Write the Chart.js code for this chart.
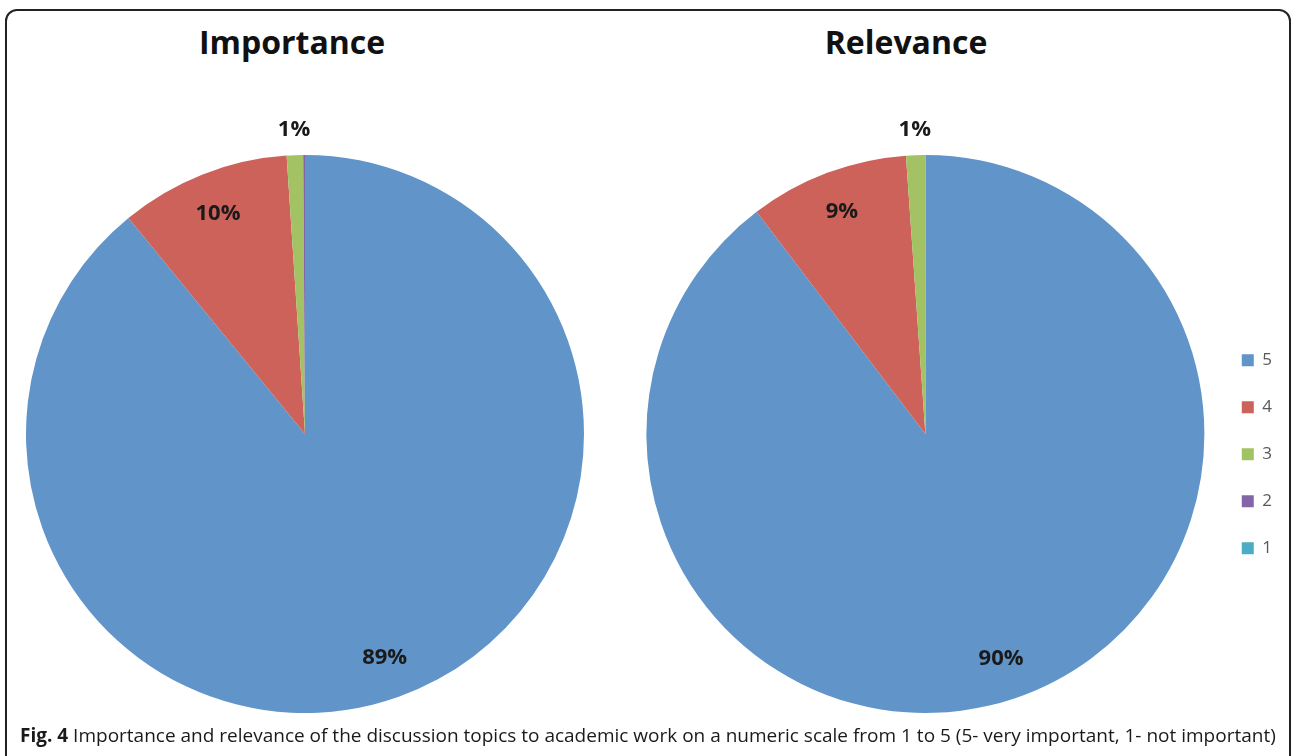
<!DOCTYPE html>
<html>
<head>
<meta charset="utf-8">
<script src="https://cdn.jsdelivr.net/npm/chart.js@4.4.1/dist/chart.umd.min.js"></script>
<style>
  html, body { margin: 0; padding: 0; background: #fff; overflow: hidden; }
  body { width: 1292px; height: 756px; position: relative; font-family: 'Open Sans', sans-serif; }
  .frame { position: absolute; left: 5px; top: 9px; width: 1282px; height: 800px; border: 2px solid #222; border-radius: 12px; }
  .title { position: absolute; top: 18px; font-weight: bold; font-size: 32px; line-height: 48px; color: #111; transform: translateX(-50%); white-space: nowrap; }
  .wrap { position: absolute; top: 0; height: 756px; }
  #wrapImp { left: 0; width: 610px; }
  #wrapRel { left: 620px; width: 662px; }
  .caption { position: absolute; left: 20px; top: 721px; font-size: 19px; line-height: 28px; color: #1a1a1a; white-space: nowrap; }
  .caption b { font-weight: bold; }
</style>
</head>
<body>
<div class="frame"></div>
<div class="title" style="left:292px">Importance</div>
<div class="title" style="left:906px">Relevance</div>
<div class="wrap" id="wrapImp"><canvas id="impChart"></canvas></div>
<div class="wrap" id="wrapRel"><canvas id="relChart"></canvas></div>
<div class="caption"><b>Fig. 4</b> Importance and relevance of the discussion topics to academic work on a numeric scale from 1 to 5 (5- very important, 1- not important)</div>

<script>
// rating levels, highest first so the slices run clockwise from 12 o'clock
const ratings = ['5', '4', '3', '2', '1'];
const ratingColors = ['#6194c9', '#cc625a', '#a3c263', '#8466a8', '#4bacc6'];

// share of answers per rating (%)
const importance = [89.05, 9.85, 0.95, 0.1, 0];
const relevance = [89.66, 9.23, 1.11, 0, 0];

// percentage labels: big slices get the label inside, thin ones just outside the rim
const sliceLabels = {
	id: 'sliceLabels',
	afterDatasetsDraw(chart) {
		const ctx = chart.ctx;
		const values = chart.data.datasets[0].data;
		const total = values.reduce((a, b) => a + b, 0);
		ctx.save();
		ctx.font = 'bold 22px "Open Sans"';
		ctx.fillStyle = '#1a1a1a';
		ctx.textAlign = 'center';
		ctx.textBaseline = 'middle';
		chart.getDatasetMeta(0).data.forEach((arc, i) => {
			const pct = Math.round(values[i] / total * 100);
			if (pct < 1) return;
			const p = arc.getProps(['x', 'y', 'startAngle', 'endAngle', 'outerRadius'], true);
			const mid = (p.startAngle + p.endAngle) / 2;
			const r = pct < 3 ? p.outerRadius * 1.09 : p.outerRadius * 0.85;
			ctx.fillText(pct + '%', p.x + Math.cos(mid) * r, p.y + Math.sin(mid) * r);
		});
		ctx.restore();
	}
};

function pieConfig(values, padding, legend) {
	return {
		type: 'pie',
		data: {
			labels: ratings,
			datasets: [{ data: values, backgroundColor: ratingColors, borderWidth: 0 }]
		},
		options: {
			responsive: true,
			maintainAspectRatio: false,
			animation: false,
			layout: { padding: padding },
			plugins: {
				tooltip: { enabled: false },
				legend: legend
			}
		},
		plugins: [sliceLabels]
	};
}

window.addEventListener('DOMContentLoaded', () => {
	new Chart(document.getElementById('impChart'), pieConfig(importance,
		{ left: 26, right: 26, top: 155, bottom: 43 },
		{ display: false }));

	new Chart(document.getElementById('relChart'), pieConfig(relevance,
		{ left: 19, right: 0, top: 155, bottom: 43 },
		{
			display: true,
			position: 'right',
			align: 'center',
			// empty title only pushes the entries a bit below the pie centre
			title: { display: true, text: '', font: { size: 12 }, padding: 13 },
			labels: {
				boxWidth: 12,
				boxHeight: 12,
				padding: 30,
				color: '#595959',
				font: { family: 'Open Sans', size: 17 }
			}
		}));
});
</script>
</body>
</html>
